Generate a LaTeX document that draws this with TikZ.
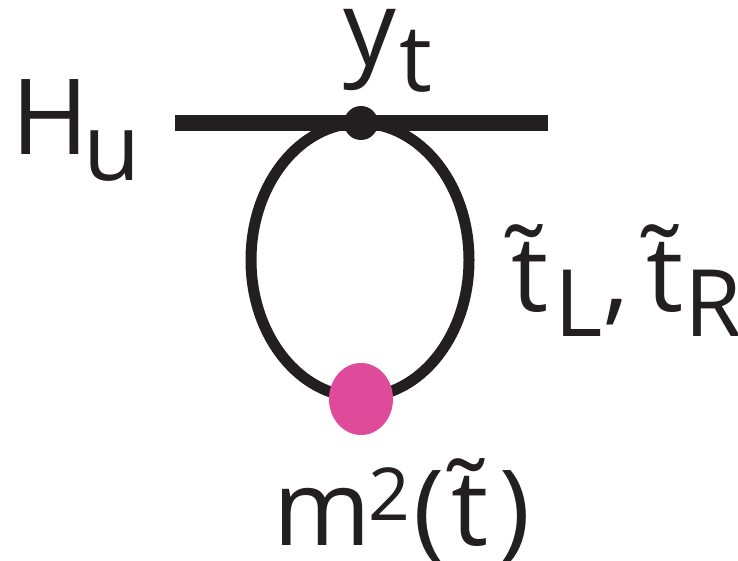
\documentclass[tikz,border=0pt]{standalone}
\usepackage{fontspec}
\usetikzlibrary{shapes.geometric}
\setmainfont{Open Sans}
\definecolor{pinkdot}{HTML}{E04A9B}
\definecolor{inkline}{HTML}{231F20}
\newcommand{\mainsz}{\fontsize{105}{105}\selectfont}
\newcommand{\subsz}{\fontsize{93}{93}\selectfont}
\newcommand{\supsz}{\fontsize{73}{73}\selectfont}
% glyph #3 centred at horizontal offset #1 (pt), raised by #2 (pt)
\newcommand{\glyphat}[3]{\rlap{\kern#1pt\raisebox{#2pt}{\makebox[0pt]{#3}}}}
\newcommand{\tld}{\char"02DC}
\begin{document}
\begin{tikzpicture}[x=1pt,y=-1pt,
  lbl/.style={inner sep=0pt, outer sep=0pt, text=inkline, anchor=base west},
  propagator/.style={line width=11pt, draw=inkline},
  extline/.style={line width=16pt, draw=inkline},
  vertexdot/.style={circle, fill=inkline, inner sep=0pt, minimum size=34pt},
  massdot/.style={ellipse, fill=pinkdot, inner sep=0pt, minimum width=64pt, minimum height=72pt}]
\useasboundingbox (0,0) rectangle (738,561);
\coordinate (Lend) at (175,123.5);
\coordinate (Rend) at (548,123.5);
\draw[propagator] (360,260) ellipse [x radius=109, y radius=137];
\draw[extline] (Lend) -- (Rend);
\node[vertexdot] (vtx) at (361,123) {};
\node[massdot] (mass) at (361,399) {};
\node[lbl] (hu) at (0,155) {\mainsz\glyphat{49.5}{0}{H}\glyphat{111.5}{-26}{\subsz u}};
\node[lbl] (yt) at (0,66) {\mainsz\glyphat{369}{0}{y}\glyphat{415}{-26}{\subsz t}};
\node[lbl] (stops) at (0,311) {\mainsz
  \glyphat{522}{10}{\tld}\glyphat{529.5}{0}{t}\glyphat{578}{-25}{\subsz L}\glyphat{616}{0}{,}%
  \glyphat{658}{10}{\tld}\glyphat{664.5}{0}{t}\glyphat{713}{-25}{\subsz R}};
\node[lbl] (msq) at (0,545) {\mainsz
  \glyphat{321.5}{0}{m}\glyphat{388.5}{25}{\supsz 2}\glyphat{428.5}{0}{(}%
  \glyphat{464}{10}{\tld}\glyphat{470}{0}{t}\glyphat{515}{0}{)}};
\end{tikzpicture}
\end{document}
